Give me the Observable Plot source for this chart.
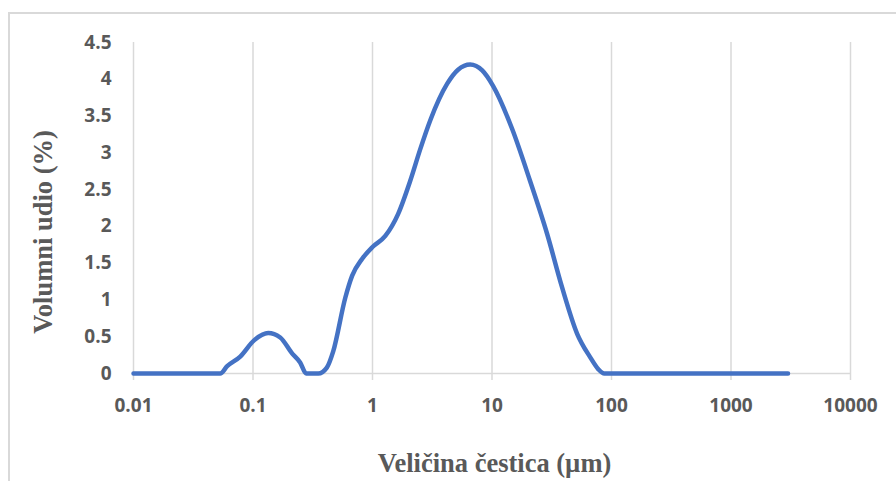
<!DOCTYPE html>
<html>
<head>
<meta charset="utf-8">
<script src="https://cdn.jsdelivr.net/npm/d3@7"></script>
<script src="https://cdn.jsdelivr.net/npm/@observablehq/plot@0.6"></script>
<style>
  html, body { margin: 0; padding: 0; background: #fff; }
  #wrap { position: relative; width: 896px; height: 481px; overflow: hidden; }
  #frame { position: absolute; left: 8px; top: 12px; width: 900px; height: 500px;
           border-top: 2px solid #d9d9d9; border-left: 2px solid #d9d9d9; box-sizing: border-box; }
  #chart { position: absolute; left: 0; top: 0; }
</style>
</head>
<body>
<div id="wrap"><div id="frame"></div><div id="chart"></div></div>
<script>
// Particle size (µm) and volume fraction (%)
const sizes = [0.01, 0.0532, 0.0608, 0.0782, 0.102, 0.134, 0.169, 0.213, 0.248, 0.279, 0.352, 0.415, 0.469, 0.592, 0.676, 0.82, 1.0, 1.28, 1.64, 2.07, 2.51, 3.04, 4.22, 5.2, 6.57, 8.28, 10.2, 14.7, 20.8, 28.9, 38.6, 51.6, 66.4, 77.4, 87, 3000];
const volumes = [0, 0, 0.1, 0.23, 0.45, 0.55, 0.49, 0.27, 0.15, 0, 0, 0.08, 0.3, 1.03, 1.33, 1.56, 1.72, 1.87, 2.17, 2.62, 3.05, 3.44, 3.94, 4.13, 4.2, 4.12, 3.91, 3.33, 2.62, 1.9, 1.17, 0.54, 0.22, 0.06, 0, 0];
const xTicks = [0.01, 0.1, 1, 10, 100, 1000, 10000];
const xTickLabels = ["0.01", "0.1", "1", "10", "100", "1000", "10000"];
const yTicks = [0, 0.5, 1, 1.5, 2, 2.5, 3, 3.5, 4, 4.5];
const yTickLabels = ["0", "0.5", "1", "1.5", "2", "2.5", "3", "3.5", "4", "4.5"];
const xTitle = "Veličina čestica (µm)";
const yTitle = "Volumni udio (%)";

const data = sizes.map((s, i) => ({size: s, vol: volumes[i]}));
const tickFont = "'Open Sans', sans-serif";
const titleFont = "'Liberation Serif', 'Times New Roman', serif";

const chart = Plot.plot({
  width: 896,
  height: 481,
  marginLeft: 133,
  marginRight: 46,
  marginTop: 42,
  marginBottom: 108,
  style: {background: "transparent", overflow: "visible"},
  x: {type: "log", domain: [0.01, 10000]},
  y: {domain: [0, 4.5]},
  marks: [
    Plot.ruleX(xTicks, {x: d => d, y1: 0, y2: 4.5, stroke: "#d9d9d9", strokeWidth: 1.5}),
    Plot.ruleY([0], {stroke: "#d9d9d9", strokeWidth: 1.5}),
    Plot.axisX({ticks: xTicks, tickFormat: d => xTickLabels[xTicks.indexOf(d)], tickSize: 7, tickPadding: 18,
      stroke: "#d9d9d9", strokeWidth: 1.5, fill: "#595959", fontSize: 19, fontWeight: 700, fontFamily: tickFont, label: null}),
    Plot.axisY({ticks: yTicks, tickFormat: d => yTickLabels[yTicks.indexOf(d)], tickSize: 0, tickPadding: 22,
      fill: "#595959", fontSize: 19, fontWeight: 700, fontFamily: tickFont, label: null}),
    Plot.line(data, {x: "size", y: "vol", stroke: "#4472C4", strokeWidth: 4.5, curve: "monotone-x",
      strokeLinecap: "round", strokeLinejoin: "round"}),
    Plot.text([xTitle], {frameAnchor: "bottom", dx: 2.5, dy: 90, text: d => d, fontFamily: titleFont,
      fontWeight: 700, fontSize: 26.5, fill: "#595959", lineAnchor: "middle", textAnchor: "middle"}),
    Plot.text([yTitle], {frameAnchor: "left", dx: -90, dy: 24, rotate: -90, text: d => d, fontFamily: titleFont,
      fontWeight: 700, fontSize: 26.5, fill: "#595959", lineAnchor: "middle", textAnchor: "middle"})
  ]
});
document.getElementById("chart").appendChild(chart);
</script>
</body>
</html>
